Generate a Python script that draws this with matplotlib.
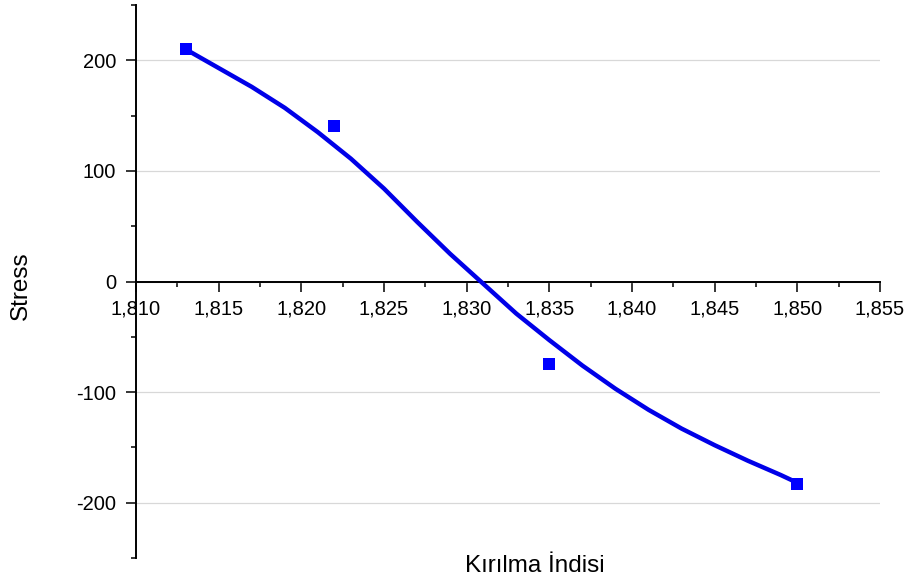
import matplotlib.pyplot as plt
from matplotlib.ticker import FuncFormatter, MultipleLocator

# Measured points
kirilma = [1.813, 1.822, 1.835, 1.850]
stress = [210, 141, -75, -183]

# Fitted curve through the measurements
fit_x = [1.813, 1.815, 1.817, 1.819, 1.821, 1.823, 1.825, 1.827, 1.829,
         1.831, 1.833, 1.835, 1.837, 1.839, 1.841, 1.843, 1.845, 1.847,
         1.849, 1.850]
fit_y = [210, 193, 176, 157, 135, 111, 84, 54, 25,
         -2, -29, -53, -76, -97, -116, -133, -148, -162,
         -175, -182]

plt.rcParams['font.family'] = ['Liberation Sans', 'DejaVu Sans']

fig = plt.figure(figsize=(9.12, 5.83), dpi=100)
ax = fig.add_axes([136 / 912, 25 / 583, 744 / 912, 553 / 583])

ax.plot(fit_x, fit_y, color='#0000e8', lw=3.2, solid_capstyle='round',
        solid_joinstyle='round', zorder=3)
ax.plot(kirilma, stress, 's', color='#0000ff', ms=8.8, mew=0, zorder=4)

ax.set_xlim(1.810, 1.855)
ax.set_ylim(-250, 250)

# x axis runs through y = 0
ax.spines['top'].set_visible(False)
ax.spines['right'].set_visible(False)
ax.spines['bottom'].set_position(('data', 0))
for side in ('left', 'bottom'):
    ax.spines[side].set_linewidth(1.4)

ax.xaxis.set_major_locator(MultipleLocator(0.005))
ax.xaxis.set_minor_locator(MultipleLocator(0.0025))
ax.yaxis.set_major_locator(MultipleLocator(100))
ax.yaxis.set_minor_locator(MultipleLocator(50))
ax.xaxis.set_major_formatter(FuncFormatter(lambda v, p: f'{v:.3f}'.replace('.', ',')))
ax.yaxis.set_major_formatter(FuncFormatter(lambda v, p: f'{v:.0f}'))

ax.tick_params(which='major', direction='out', length=7.2, width=1.1,
               labelsize=14.5, colors='black')
ax.tick_params(which='minor', direction='out', length=3.6, width=1.1)
ax.tick_params(axis='x', which='major', pad=6)
ax.tick_params(axis='y', which='major', pad=7)

ax.yaxis.grid(True, which='major', color='#d8d8d8', lw=0.9)
ax.set_axisbelow(True)

ax.set_xlabel('Kırılma İndisi', fontsize=17.5)
ax.xaxis.set_label_coords(0.536, -0.0145)
ax.xaxis.label.set_va('center')
ax.set_ylabel('Stress', fontsize=17.5)
ax.yaxis.set_label_coords(-0.1546, 0.492)
ax.yaxis.label.set_va('center')

fig.savefig('out.png', dpi=100)
